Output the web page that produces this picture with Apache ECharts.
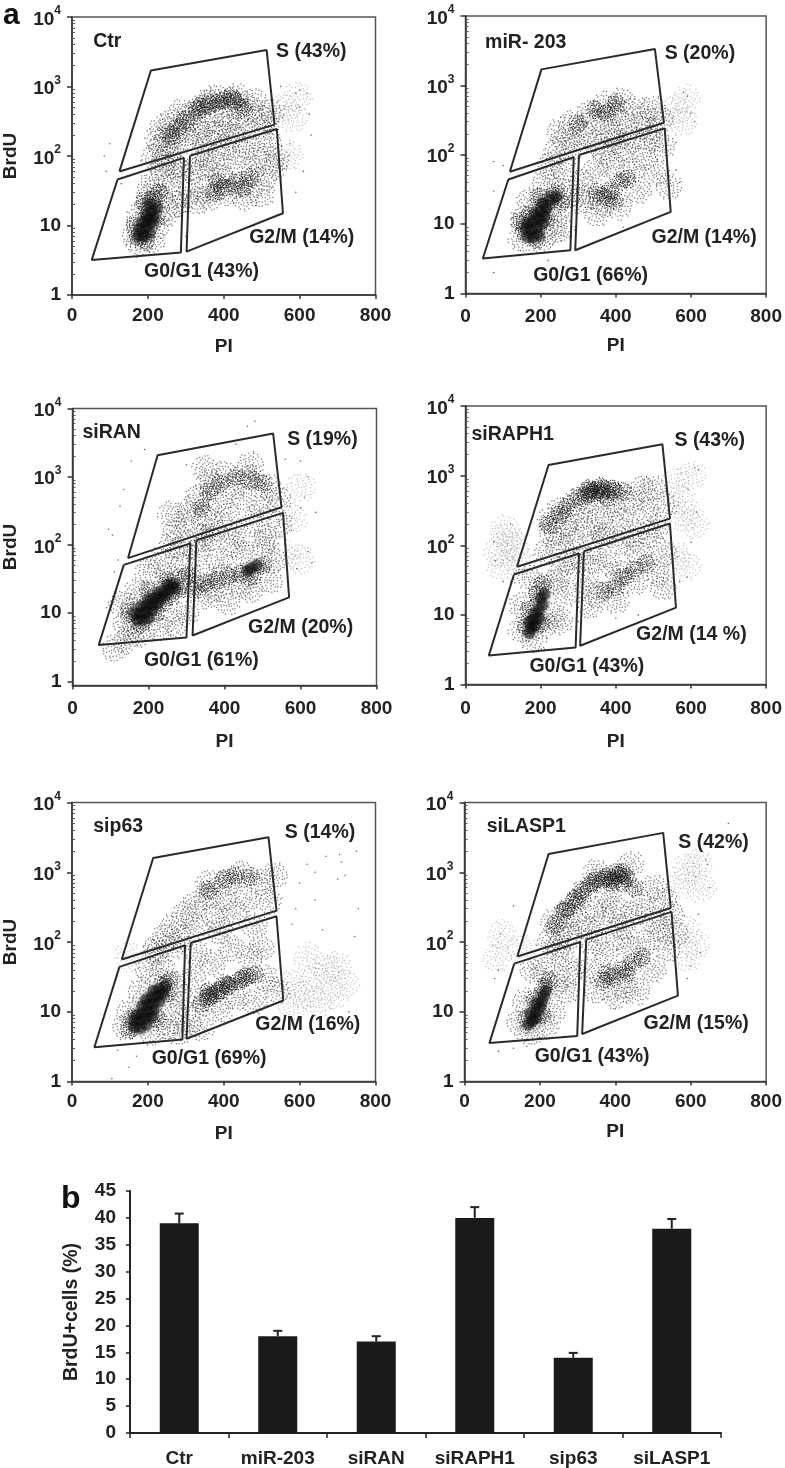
<!DOCTYPE html>
<html><head><meta charset="utf-8">
<style>html,body{margin:0;padding:0;background:#fff}#c{width:785px;height:1468px;filter:blur(.45px)}</style>
<script src="https://cdn.jsdelivr.net/npm/echarts@6/dist/echarts.min.js"></script>
</head><body><div id="c"></div>
<script>
// ---------- panel b ----------
const barCategories = ['Ctr','miR-203','siRAN','siRAPH1','sip63','siLASP1'];
const barValues = [39,18,17,40,14,38];
const barErrorTops = [40.8,19,18,42,14.9,39.8];
// ---------- panel a ticks ----------
const xTicks = [0,200,400,600,800];
const yMajorTicks = [1,10,100,1000,10000];
const yMinorTicks = [2,3,4,5,6,7,8,9,20,30,40,50,60,70,80,90,200,300,400,500,600,700,800,900,2000,3000,4000,5000,6000,7000,8000,9000];
// ---------- panel a: gates [S, G0/G1, G2/M], vertices as [PI, BrdU] ----------
const ctrGates = [[[125,60],[208,1700],[513,3340],[534,283]],[[120,46],[52,3.2],[287,4.1],[295,94]],[[311,101],[302,4.2],[556,15],[540,245]]];
const mirGates = [[[118,57],[202,1700],[504,3340],[528,289]],[[114,44],[46,3.2],[279,4.2],[288,92]],[[302,99],[292,4.2],[546,15],[530,240]]];
const ranGates = [[[146,64],[224,2070],[528,4300],[550,357]],[[135,51],[69,3.4],[300,4.4],[310,105]],[[326,117],[316,4.7],[570,17],[554,295]]];
const raphGates = [[[137,49],[221,1420],[524,2820],[544,241]],[[129,38],[62,2.6],[293,3.4],[302,76]],[[315,82],[305,3.6],[560,12.7],[544,205]]];
const p63Gates = [[[131,56],[214,1600],[518,3180],[539,282]],[[125,44],[59,3.1],[291,4],[298,90]],[[313,97],[302,4.1],[557,14.5],[539,234]]];
const laspGates = [[[140,62],[223,1830],[527,3670],[547,308]],[[132,49],[66,3.55],[299,4.5],[307,100]],[[323,108],[312,4.8],[566,17],[549,270]]];
// ---------- panel a: text labels [PI, BrdU, text] ----------
const ctrLabels = [[56,4400,'Ctr'],[538,3130,'S (43%)'],[467,6.6,'G2/M (14%)'],[190,2.2,'G0/G1 (43%)']];
const mirLabels = [[52,4130,'miR- 203'],[530,2900,'S (20%)'],[495,6.4,'G2/M (14%)'],[180,1.84,'G0/G1 (66%)']];
const ranLabels = [[26,4400,'siRAN'],[565,3500,'S (19%)'],[462,6.1,'G2/M (20%)'],[188,2.03,'G0/G1 (61%)']];
const raphLabels = [[16,3920,'siRAPH1'],[556,3210,'S (43%)'],[454,5.2,'G2/M (14 %)'],[170,1.8,'G0/G1 (43%)']];
const p63Labels = [[56,4570,'sip63'],[561,3670,'S (14%)'],[483,6.5,'G2/M (16%)'],[210,2.1,'G0/G1 (69%)']];
const laspLabels = [[59,4570,'siLASP1'],[567,2640,'S (42%)'],[475,6.7,'G2/M (15%)'],[186,2.29,'G0/G1 (43%)']];
// ---------- panel a: cell populations, [PI, BrdU] ----------
const ctrSparse = [[215,95],[235,130],[250,100],[225,170],[255,190],[240,260],[270,150],[285,240],[265,320],[300,180],[310,350],[290,430],[335,220],[330,450],[350,300],[365,620],[350,560],[385,210],[390,400],[380,700],[410,290],[420,560],[430,720],[445,380],[455,240],[470,480],[480,620],[500,350],[525,440],[510,270],[320,60],[340,110],[360,160],[345,35],[375,80],[400,130],[330,22],[365,25],[395,50],[420,190],[430,90],[410,30],[440,38],[460,140],[475,60],[490,100],[505,45],[520,160],[530,70],[455,25],[500,28],[540,90],[350,70],[300,25],[285,60],[165,7],[210,6],[175,13],[225,10],[200,20],[235,25],[260,40],[215,45],[250,15],[275,20],[180,5.5],[205,30],[240,70],[270,75]];
const ctrFaint = [[560,500],[580,350],[570,100],[595,700]];
const ctrMedium = [[330,470],[360,560],[400,640],[430,620],[300,330],[280,250],[260,200],[340,520],[385,600],[420,700],[450,500],[400,35],[430,42],[470,50],[375,30],[385,42],[450,35],[200,16],[215,24],[175,7],[230,30],[165,10],[220,12],[190,22],[195,6]];
const ctrCore = [[175,7],[190,7],[205,8],[180,9],[195,9.5],[210,11],[185,11],[200,12],[215,13],[195,14],[210,16],[225,18],[205,20]];
const ctrDots = [[100,150],[85,100],[90,60],[130,40],[600,900],[620,800],[600,500],[625,400],[590,800],[610,60],[575,150],[590,30],[550,1000],[170,3.5],[480,10],[300,7],[150,4.5],[630,200]];

const mirSparse = [[240,110],[265,160],[250,220],[290,130],[285,280],[315,200],[330,400],[345,150],[355,290],[370,520],[390,200],[395,380],[415,600],[425,280],[440,170],[450,450],[470,300],[490,220],[500,460],[520,320],[310,40],[330,25],[345,60],[370,110],[365,20],[390,70],[410,18],[425,120],[440,60],[460,30],[475,90],[490,170],[510,55],[525,130],[305,22],[540,35],[350,14],[395,150],[150,6],[205,6],[155,12],[230,8],[240,14],[210,40],[250,30],[270,25],[265,60],[225,70],[255,9],[170,22]];
const mirFaint = [[560,450],[575,300],[585,620]];
const mirMedium = [[190,6],[155,8],[170,14],[205,17],[225,22],[240,28],[195,25],[345,450],[375,400],[400,550],[300,280],[385,30],[410,40],[430,45],[370,25],[395,22],[350,28],[215,12],[145,11],[255,20]];
const mirCore = [[165,6.5],[180,6.5],[195,7],[160,8.5],[175,8.5],[190,9],[205,10],[165,10.5],[180,11],[195,12],[210,13],[185,14],[200,15.5],[215,17],[205,20],[225,22],[240,25]];
const mirDots = [[75,80],[100,70],[75,30],[115,45],[75,2],[590,700],[600,400],[610,300],[580,800],[560,150],[570,40],[560,60],[220,3],[145,3.5],[420,9],[500,12],[130,5]];

const ranSparse = [[260,100],[290,90],[270,160],[300,210],[260,280],[310,330],[340,130],[350,250],[330,500],[370,170],[385,400],[360,800],[400,1100],[410,270],[430,150],[420,700],[450,500],[470,950],[480,220],[500,350],[520,700],[510,130],[540,450],[545,200],[350,1300],[470,1500],[330,80],[360,130],[385,60],[420,100],[450,70],[500,100],[530,60],[345,35],[370,22],[400,35],[440,25],[470,22],[520,30],[310,30],[410,15],[350,18],[140,7],[160,12],[170,20],[200,40],[230,60],[250,35],[290,50],[180,5],[230,6],[270,7],[300,10],[130,14],[160,6],[280,30],[140,4],[110,3]];
const ranFaint = [[580,250],[600,700],[560,70],[600,60]];
const ranMedium = [[250,30],[280,22],[320,22],[350,27],[380,30],[410,35],[440,38],[470,35],[500,50],[430,1000],[470,900],[360,600],[390,800],[340,350],[500,800],[180,7],[220,10],[150,10],[240,14],[200,22],[260,18],[300,35]];
const ranCore = [[170,8],[185,8],[200,8.5],[165,10],[180,10],[195,10.5],[210,11],[180,12.5],[195,13],[210,13.5],[225,14],[200,16],[215,16.5],[230,17],[245,18],[225,20],[240,21],[255,22],[270,23],[250,26],[265,27],[470,45],[485,50],[460,42]];
const ranDots = [[460,5500],[480,6500],[190,2500],[155,1700],[135,650],[125,370],[95,170],[105,140],[120,60],[110,40],[600,1700],[640,300],[620,80],[630,55],[590,45],[610,500],[560,1800],[430,3000],[300,1500],[620,1000],[600,350],[90,12],[130,2.7]];

const raphSparse = [[215,80],[230,150],[250,110],[225,220],[265,200],[285,120],[250,320],[300,260],[320,170],[290,400],[330,400],[360,250],[370,140],[395,350],[420,230],[440,430],[445,140],[480,300],[500,650],[510,180],[470,650],[530,380],[320,30],[340,60],[365,130],[380,55],[410,40],[420,110],[450,30],[460,80],[490,140],[510,40],[530,75],[350,20],[330,14],[400,16],[525,25],[310,65],[150,6],[210,7],[150,14],[230,10],[240,30],[200,25],[255,45],[165,35],[270,20],[280,60],[180,4.5],[250,8]];
const raphFaint = [[85,80],[110,130],[95,50],[130,95],[140,60],[105,170],[560,800],[575,450],[600,1000],[580,250],[610,200],[560,70],[590,50]];
const raphMedium = [[220,200],[250,280],[270,370],[300,500],[330,650],[360,700],[390,650],[420,600],[340,550],[380,480],[330,600],[350,620],[370,650],[395,600],[320,520],[360,560],[400,25],[370,22],[420,35],[450,45],[480,55],[190,20],[205,28],[160,7],[200,7.5],[170,12]];
const raphCore = [[170,5.5],[175,6.5],[185,7],[170,8],[180,8.5],[195,9],[185,10.5],[195,12],[205,14],[200,17],[210,20]];
const raphDots = [[75,110],[80,60],[120,200],[620,1200],[610,1300],[615,300],[600,110],[590,35],[570,30],[300,8],[400,9],[460,10],[100,30],[120,30],[210,3.2]];

const p63Sparse = [[220,80],[245,120],[265,170],[290,110],[300,250],[330,170],[325,350],[355,450],[375,240],[390,140],[400,420],[410,700],[430,260],[445,950],[460,420],[480,170],[500,700],[520,380],[535,900],[265,85],[360,700],[330,70],[370,50],[420,80],[470,60],[320,30],[350,14],[390,11],[430,16],[480,14],[510,30],[540,20],[500,80],[310,7],[340,6],[140,6],[150,10],[210,5],[250,6],[270,10],[270,25],[240,40],[200,40],[180,20],[220,70],[280,5],[290,15]];
const p63Faint = [[580,25],[610,18],[640,30],[670,40],[700,45],[720,25],[650,14],[690,18],[580,12],[620,60],[150,60]];
const p63Medium = [[400,800],[430,900],[470,850],[360,550],[380,18],[360,16],[410,24],[450,30],[480,34],[340,13],[365,17],[390,20],[415,24],[440,28],[460,32],[360,20],[400,25],[240,24],[250,18],[160,8],[225,8],[150,5.5],[255,28]];
const p63Core = [[165,6],[180,5.8],[195,6.5],[165,7.5],[180,7.5],[195,8],[210,8.5],[170,9],[185,9.5],[200,10],[215,10.5],[185,12],[200,12.5],[215,13],[230,14],[195,15],[210,16],[225,17],[240,18],[215,20],[230,21],[245,23]];
const p63Dots = [[705,1800],[710,1400],[750,2000],[670,1700],[640,1000],[620,1300],[720,900],[755,300],[745,120],[600,700],[590,300],[580,180],[640,400],[660,150],[700,800],[105,1.1],[150,1.6],[170,2.3],[730,10],[690,8],[600,8],[640,9],[120,2.8]];

const laspSparse = [[225,100],[250,140],[235,200],[280,120],[270,240],[300,200],[305,400],[330,150],[340,300],[370,200],[380,450],[350,1000],[400,300],[420,170],[445,250],[440,1300],[470,350],[500,200],[505,600],[530,400],[550,250],[340,100],[330,40],[350,20],[375,65],[410,120],[425,22],[440,80],[480,100],[500,40],[520,150],[540,80],[560,130],[460,20],[400,17],[145,7],[160,14],[215,6],[235,10],[240,25],[210,40],[260,60],[180,40],[270,20],[280,35],[175,5],[250,85]];
const laspFaint = [[100,130],[150,80],[85,60],[590,1100],[620,1300],[630,600],[580,700],[590,150],[610,90],[590,60]];
const laspMedium = [[240,180],[265,280],[290,400],[310,550],[340,700],[370,800],[400,1000],[430,850],[450,600],[390,700],[420,700],[380,850],[410,900],[395,780],[420,1000],[330,620],[350,800],[300,420],[270,300],[370,28],[395,32],[420,40],[445,50],[470,60],[380,35],[430,35],[210,22],[225,28],[165,8],[205,9],[185,15]];
const laspCore = [[170,6.5],[180,7.5],[190,8],[175,9.5],[190,10],[200,11.5],[190,13],[205,14],[210,17],[215,20]];
const laspDots = [[95,130],[130,330],[75,90],[80,30],[90,40],[640,1500],[650,600],[645,1300],[620,250],[600,45],[625,70],[590,30],[130,3],[165,3.2],[90,2.7],[400,11],[700,5000]];

// ---------- layout of the six flow panels and of the bar panel ----------
const panelRects = [
 {left:72,top:17,width:303.5,height:278},
 {left:465.5,top:16,width:302,height:277.5},
 {left:72.5,top:408.5,width:304,height:277},
 {left:465.5,top:406,width:303,height:278.5},
 {left:72,top:802.5,width:303.5,height:279},
 {left:464.5,top:802.5,width:303,height:279}];
const panelYMin = [1,1,0.87,1,1,1];
const panelNameGap = [42,42.5,46.5,47.5,42.5,40.5];
const panelLabelMargin = [11,14,14,15,11,11];
const panels = [
 [ctrGates,ctrLabels,ctrSparse,ctrMedium,ctrCore,ctrDots,ctrFaint],
 [mirGates,mirLabels,mirSparse,mirMedium,mirCore,mirDots,mirFaint],
 [ranGates,ranLabels,ranSparse,ranMedium,ranCore,ranDots,ranFaint],
 [raphGates,raphLabels,raphSparse,raphMedium,raphCore,raphDots,raphFaint],
 [p63Gates,p63Labels,p63Sparse,p63Medium,p63Core,p63Dots,p63Faint],
 [laspGates,laspLabels,laspSparse,laspMedium,laspCore,laspDots,laspFaint]];
const FONT='"Liberation Sans",Arial,sans-serif', INK='#222', FS=19;

// speckle glyph: each population mark is drawn as a small patch of fine grains (visual style only)
const grain=[[48,2],[30,8],[66,10],[14,22],[44,18],[80,24],[26,32],[56,30],[92,38],[6,42],[38,42],[70,42],[20,52],[50,50],[84,54],[2,60],[34,62],[62,60],[14,72],[46,70],[76,70],[94,66],[28,82],[58,82],[40,94],[70,90],[52,38],[42,58],[60,48],[30,50],
 [38,14],[56,8],[22,14],[74,18],[34,24],[62,22],[12,36],[46,30],[72,32],[84,40],[22,42],[28,66],[54,66],[68,54],[78,60],[8,56],[42,80],[66,74],[36,74],[50,88],[20,62],[88,76],[60,92],[30,92],[46,44],[56,56]];
const speckle=w=>'path://'+grain.map(g=>`M${g[0]} ${g[1]}h${w}v${w}h-${w}z`).join('');
const rotate=(v,p)=>(p.dataIndex*53)%360;

const grids=[],xAxes=[],yAxes=[],series=[];
panels.forEach((p,i)=>{
  const [gates,labels,sparse,medium,core,dots,faint]=p;
  const r=panelRects[i];
  grids.push({left:r.left,top:r.top,width:r.width,height:r.height,show:true,borderColor:'#555',borderWidth:1.5,backgroundColor:'#fff'});
  xAxes.push({type:'value',gridIndex:i,min:0,max:800,interval:200,name:'PI',nameLocation:'middle',nameGap:panelNameGap[i],
    nameTextStyle:{fontFamily:FONT,fontWeight:'bold',fontSize:FS,color:INK},
    axisLine:{onZero:false,lineStyle:{color:'#333',width:1.5}},axisTick:{show:true,length:4,lineStyle:{color:'#333',width:1.5}},
    splitLine:{show:false},axisLabel:{fontFamily:FONT,fontWeight:'bold',fontSize:FS,color:INK,margin:panelLabelMargin[i],hideOverlap:false,showMaxLabel:true,showMinLabel:true}});
  const yi=yAxes.length;
  yAxes.push({type:'log',logBase:10,gridIndex:i,min:panelYMin[i],max:10000,
    name:i%2===0?'BrdU':'',nameLocation:'middle',nameGap:52,nameRotate:90,
    nameTextStyle:{fontFamily:FONT,fontWeight:'bold',fontSize:FS,color:INK},
    axisLine:{onZero:false,lineStyle:{color:'#333',width:1.5}},
    axisTick:{show:true,length:5,customValues:yMajorTicks,lineStyle:{color:'#333',width:1.5}},
    splitLine:{show:false},
    axisLabel:{customValues:yMajorTicks,margin:11,fontFamily:FONT,fontWeight:'bold',fontSize:FS,color:INK,
      formatter:v=>{const n=Math.round(Math.log10(v));return n===0?'1':n===1?'10':`{b|10}{s|${n}}`;},
      rich:{b:{fontFamily:FONT,fontWeight:'bold',fontSize:FS,color:INK,verticalAlign:'bottom',padding:[5,0,0,0]},s:{fontFamily:FONT,fontWeight:'bold',fontSize:12,color:INK,verticalAlign:'top',padding:[0,0,0,0]}}}});
  yAxes.push({type:'log',logBase:10,gridIndex:i,min:panelYMin[i],max:10000,
    axisLine:{show:false},axisLabel:{show:false},splitLine:{show:false},
    axisTick:{show:true,length:3,customValues:yMinorTicks,lineStyle:{color:'#555',width:1}}});
  const base={type:'scatter',xAxisIndex:i,yAxisIndex:yi,silent:true};
  series.push({...base,name:'faint'+i,data:faint,symbol:speckle(4),symbolSize:30,symbolRotate:rotate,itemStyle:{color:'#333',opacity:.3}});
  series.push({...base,name:'sparse'+i,data:sparse,symbol:speckle(4.5),symbolSize:27,symbolRotate:rotate,itemStyle:{color:'#222',opacity:.62}});
  series.push({...base,name:'medium'+i,data:medium,symbol:speckle(6.5),symbolSize:19,symbolRotate:rotate,itemStyle:{color:'#111',opacity:.75}});
  series.push({...base,name:'core'+i,data:core,symbol:'circle',symbolSize:12,itemStyle:{color:'#0c0c0c',opacity:.42,shadowBlur:5,shadowColor:'#111'}});
  series.push({...base,name:'dots'+i,data:dots,symbol:'circle',symbolSize:1.6,itemStyle:{color:'#444',opacity:.8}});
  gates.forEach((g,k)=>series.push({type:'line',xAxisIndex:i,yAxisIndex:yi,name:'gate'+i+k,silent:true,z:5,data:g.concat([g[0]]),showSymbol:false,symbol:'none',
    lineStyle:{color:'#2a2a2a',width:2},clip:false}));
  series.push({...base,name:'labels'+i,z:6,data:labels,symbolSize:0,itemStyle:{opacity:1},
    label:{show:true,position:'right',distance:0,opacity:1,formatter:d=>d.data[2],fontFamily:FONT,fontWeight:'bold',fontSize:FS+.5,color:INK}});
});
// bar panel
const bi=panels.length;
grids.push({left:130,top:1191,width:591,height:242});
xAxes.push({type:'category',gridIndex:bi,data:barCategories,
  axisLine:{lineStyle:{color:'#222',width:2}},axisTick:{show:true,alignWithLabel:false,length:5,lineStyle:{color:'#222',width:1.5}},
  axisLabel:{interval:0,fontFamily:FONT,fontWeight:'bold',fontSize:FS,color:INK,margin:16}});
const byi=yAxes.length;
yAxes.push({type:'value',gridIndex:bi,min:0,max:45,interval:5,name:'BrdU+cells (%)',nameLocation:'middle',nameGap:48,nameRotate:90,
  nameTextStyle:{fontFamily:FONT,fontWeight:'bold',fontSize:FS+.5,color:INK},
  axisLine:{show:true,lineStyle:{color:'#222',width:2}},axisTick:{show:true,length:4,lineStyle:{color:'#222',width:1.5}},splitLine:{show:false},
  axisLabel:{fontFamily:FONT,fontWeight:'bold',fontSize:FS,color:INK,margin:14}});
series.push({type:'bar',name:'BrdU+cells',xAxisIndex:bi,yAxisIndex:byi,data:barValues,barWidth:39,itemStyle:{color:'#1a1a1a'}});
series.push({type:'custom',name:'error',xAxisIndex:bi,yAxisIndex:byi,z:3,data:barCategories.map((c,i)=>[i,barValues[i],barErrorTops[i]]),
  encode:{x:0,y:[1,2]},
  renderItem:(params,api)=>{const a=api.coord([api.value(0),api.value(1)]),b=api.coord([api.value(0),api.value(2)]);
    const s={stroke:'#222',lineWidth:2};
    return {type:'group',children:[
      {type:'line',shape:{x1:a[0],y1:a[1],x2:b[0],y2:b[1]},style:s},
      {type:'line',shape:{x1:b[0]-4.5,y1:b[1],x2:b[0]+4.5,y2:b[1]},style:s}]};}});

const chart=echarts.init(document.getElementById('c'),null,{renderer:'canvas',width:785,height:1468});
chart.setOption({animation:false,backgroundColor:'#fff',grid:grids,xAxis:xAxes,yAxis:yAxes,series,
  title:[
   {text:'a',left:-2,top:-4,textStyle:{fontFamily:FONT,fontWeight:'bold',fontSize:30,color:'#111'}},
   {text:'b',left:56,top:1178,textStyle:{fontFamily:FONT,fontWeight:'bold',fontSize:32,color:'#111'}}]});
</script></body></html>
